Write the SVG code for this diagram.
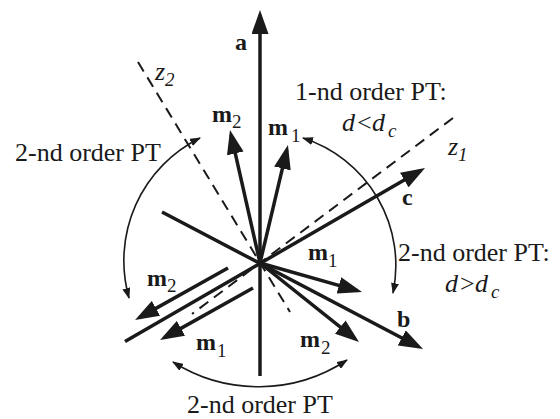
<svg xmlns="http://www.w3.org/2000/svg" width="560" height="419" viewBox="0 0 560 419">
<style>
.ax{stroke:#1a1a1a;stroke-width:3.5;fill:none;marker-end:url(#big)}
.ds{stroke:#1a1a1a;stroke-width:2;fill:none;stroke-dasharray:11 7}
.arc{stroke:#1a1a1a;stroke-width:1.6;fill:none;marker-start:url(#sm);marker-end:url(#sm)}
text{font-family:"Liberation Serif","Times New Roman",serif;fill:#1a1a1a}
.t{font-size:26px}
.b{font-size:24px;font-weight:bold}
.i{font-size:26px;font-style:italic}
.s{font-size:19px;font-weight:normal;font-style:normal}
.si{font-size:19px;font-style:italic}
</style>
<defs>
<marker id="big" markerUnits="userSpaceOnUse" viewBox="0 0 24 17" markerWidth="24" markerHeight="17" refX="19" refY="8.5" orient="auto">
<path d="M0,0 L24,8.5 L0,17 z" fill="#1a1a1a"/>
</marker>
<marker id="sm" markerUnits="userSpaceOnUse" viewBox="0 0 11 8" markerWidth="11" markerHeight="8" refX="10" refY="4" orient="auto-start-reverse">
<path d="M0,0 L11,4 L0,8 z" fill="#1a1a1a"/>
</marker>
</defs>

<g id="dashed-axes">
<line id="z2-line" class="ds" x1="138" y1="62" x2="290" y2="312"/>
<line id="z1-line" class="ds" x1="453" y1="118" x2="192" y2="314"/>
</g>

<g id="crystal-axes">
<line id="axis-a" class="ax" x1="260" y1="376" x2="260" y2="15"/>
<line id="axis-c" class="ax" x1="125" y1="341.5" x2="420.7" y2="170.5"/>
<line id="axis-b" class="ax" x1="162" y1="212" x2="418.6" y2="346.7"/>
</g>

<g id="moments">
<line id="m2-up" class="ax" x1="260" y1="263" x2="231.1" y2="134.9"/>
<line id="m1-up" class="ax" x1="260" y1="263" x2="286.8" y2="149.9"/>
<line id="m1-right" class="ax" x1="260" y1="263" x2="357.2" y2="290.6"/>
<line id="m2-right" class="ax" x1="260" y1="263" x2="355.1" y2="338.9"/>
<line id="m2-left" class="ax" x1="228" y1="268" x2="139.4" y2="317.6"/>
<line id="m1-left" class="ax" x1="253" y1="288" x2="164.4" y2="337.6"/>
</g>

<g id="connectors">
<path id="arc-right" class="arc" d="M303,138 A134,134 0 0 1 393,293"/>
<path id="arc-left" class="arc" d="M200,138 A137,137 0 0 0 129,298"/>
<path id="arc-bottom" class="arc" d="M173,362 A160,160 0 0 0 347,360"/>
</g>

<g id="labels">
<text class="b" x="235" y="50">a</text>
<text class="b" x="402" y="205">c</text>
<text class="b" x="397" y="327">b</text>
<text class="i" x="155" y="80">z<tspan class="si" x="165" y="86">2</tspan></text>
<text class="i" x="448" y="155">z<tspan class="si" x="458" y="161">1</tspan></text>
<text class="b" x="212" y="122">m<tspan class="s" x="232" y="128">2</tspan></text>
<text class="b" x="268" y="135">m<tspan class="s" x="291" y="142">1</tspan></text>
<text class="b" x="308" y="260">m<tspan class="s" x="328" y="267">1</tspan></text>
<text class="b" x="300" y="347">m<tspan class="s" x="321" y="354">2</tspan></text>
<text class="b" x="147" y="286">m<tspan class="s" x="167" y="292">2</tspan></text>
<text class="b" x="196" y="350">m<tspan class="s" x="217" y="357">1</tspan></text>
<text class="t" x="295" y="100">1-nd order PT:</text>
<text class="i" x="342" y="131">d<tspan style="font-style:normal" x="357">&lt;</tspan><tspan x="372">d</tspan><tspan class="si" x="388" y="137">c</tspan></text>
<text class="t" x="15" y="161">2-nd order PT</text>
<text class="t" x="398" y="261">2-nd order PT:</text>
<text class="i" x="445" y="292">d<tspan style="font-style:normal" x="460">&gt;</tspan><tspan x="475">d</tspan><tspan class="si" x="491" y="298">c</tspan></text>
<text class="t" x="187" y="413">2-nd order PT</text>
</g>
</svg>
